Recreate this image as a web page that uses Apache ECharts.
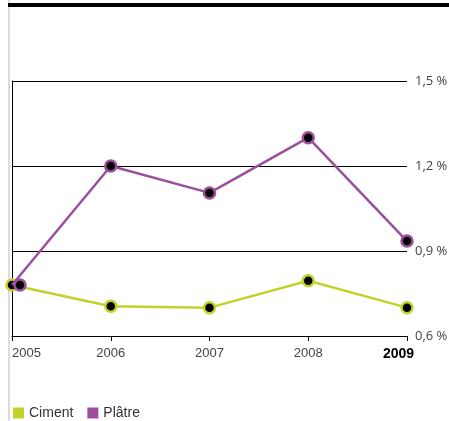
<!DOCTYPE html>
<html>
<head>
<meta charset="utf-8">
<script src="https://cdn.jsdelivr.net/npm/echarts@6/dist/echarts.min.js"></script>
<style>
  html, body { margin: 0; padding: 0; background: #fff; }
  #chart { width: 449px; height: 421px; }
</style>
</head>
<body>
<div id="chart"></div>
<script>
  // data
  var years = ['2005', '2006', '2007', '2008', '2009'];
  var ciment = [0.78, 0.705, 0.70, 0.795, 0.70];
  var platre = [0.78, 1.20, 1.105, 1.30, 0.935];
  var yTicks = { min: 0.6, max: 1.5, step: 0.3 };

  var green = '#c2d22a';
  var purple = '#9b4f9c';

  var chart = echarts.init(document.getElementById('chart'));

  var xData = years.map(function(y, i) {
    if (i === years.length - 1) {
      // last year is bold and sits a bit left of its tick
      return { value: y, textStyle: { fontWeight: 'bold', fontSize: 14, color: '#000', padding: [0, 17, 0, 0] } };
    }
    return y;
  });

  var platreData = platre.map(function(v, i) {
    // first purple dot sits a little right of the green one
    return i === 0 ? { value: v, symbolOffset: [8, 0] } : v;
  });

  chart.setOption({
    backgroundColor: '#fff',
    animation: false,
    textStyle: { fontFamily: 'Liberation Sans' },
    graphic: [
      { type: 'rect', left: 8, top: 0, shape: { width: 2, height: 421 }, style: { fill: '#dcdcdc' } },
      { type: 'rect', left: 8, top: 3, shape: { width: 441, height: 4 }, style: { fill: '#000' } }
    ],
    legend: {
      left: 8,
      top: 401,
      icon: 'rect',
      itemWidth: 11,
      itemHeight: 11,
      itemGap: 14,
      textStyle: { fontSize: 14, color: '#333', fontFamily: 'Liberation Sans' },
      data: [
        { name: 'Ciment', itemStyle: { color: green, borderWidth: 0 } },
        { name: 'Plâtre', itemStyle: { color: purple, borderWidth: 0 } }
      ]
    },
    grid: { left: 12, right: 42, top: 81, bottom: 85, outerBoundsMode: 'none' },
    xAxis: {
      type: 'category',
      boundaryGap: false,
      data: xData,
      axisLine: { lineStyle: { color: '#000', width: 1 } },
      axisTick: { length: 5, lineStyle: { color: '#000' } },
      axisLabel: {
        color: '#444',
        fontSize: 13,
        margin: 11,
        fontFamily: 'Liberation Sans',
        alignMinLabel: 'left'
      }
    },
    yAxis: [
      {
        type: 'value',
        position: 'right',
        min: yTicks.min,
        max: yTicks.max,
        interval: yTicks.step,
        axisLine: { show: false },
        axisTick: { show: false },
        splitLine: { lineStyle: { color: '#000', width: 1 } },
        axisLabel: {
          color: '#444',
          fontSize: 13,
          margin: 8,
          padding: [5, 0, 0, 0],
          fontFamily: 'Open Sans',
          formatter: function(v) { return v.toFixed(1).replace('.', ',') + ' %'; }
        }
      },
      {
        type: 'value',
        position: 'left',
        min: yTicks.min,
        max: yTicks.max,
        interval: yTicks.step,
        axisLine: { show: true, lineStyle: { color: '#000', width: 1 } },
        axisTick: { show: false },
        axisLabel: { show: false },
        splitLine: { show: false }
      }
    ],
    series: [
      {
        name: 'Ciment',
        type: 'line',
        data: ciment,
        color: green,
        symbol: 'circle',
        symbolSize: 11,
        lineStyle: { width: 2.5, color: green },
        itemStyle: { color: '#000', borderColor: green, borderWidth: 2.5 },
        z: 3
      },
      {
        name: 'Plâtre',
        type: 'line',
        data: platreData,
        color: purple,
        symbol: 'circle',
        symbolSize: 11,
        lineStyle: { width: 2.5, color: purple },
        itemStyle: { color: '#000', borderColor: purple, borderWidth: 2.5 },
        z: 4
      }
    ]
  });
</script>
</body>
</html>
